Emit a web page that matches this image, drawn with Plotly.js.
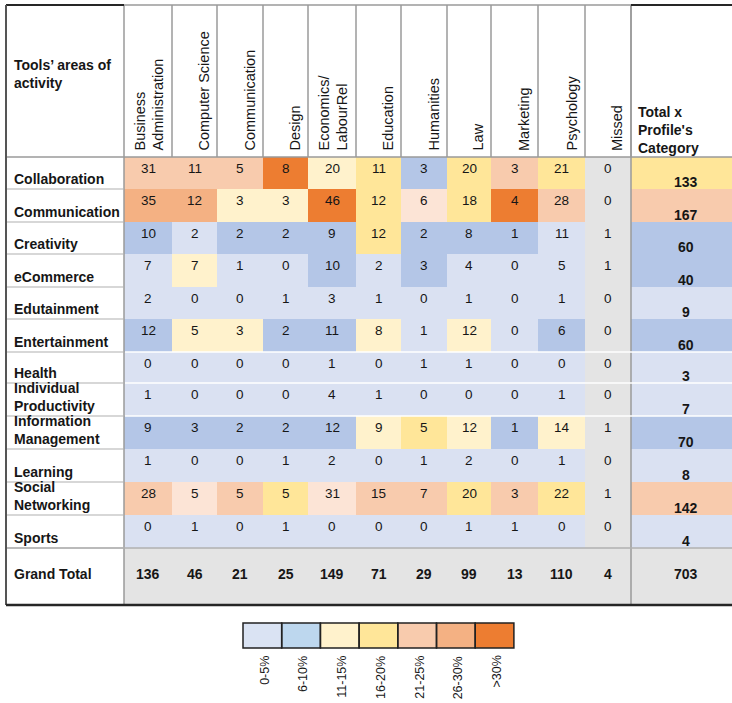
<!DOCTYPE html>
<html>
<head>
<meta charset="utf-8">
<script src="https://cdn.plot.ly/plotly-3.0.1.min.js"></script>
<style>html,body{margin:0;padding:0;background:#fff;}#chart{width:732px;height:703px;}</style>
</head>
<body>
<div id="chart"></div>
<script>
// ---------- DATA ----------
const profiles = ['Business<br>Administration','Computer Science','Communication','Design','Economics/<br>LabourRel','Education','Humanities','Law','Marketing','Psychology','Missed'];
const areas = ['Collaboration','Communication','Creativity','eCommerce','Edutainment','Entertainment','Health','Individual<br>Productivity','Information<br>Management','Learning','Social<br>Networking','Sports'];
const counts = [
  [31,11,5,8,20,11,3,20,3,21,0],
  [35,12,3,3,46,12,6,18,4,28,0],
  [10,2,2,2,9,12,2,8,1,11,1],
  [7,7,1,0,10,2,3,4,0,5,1],
  [2,0,0,1,3,1,0,1,0,1,0],
  [12,5,3,2,11,8,1,12,0,6,0],
  [0,0,0,0,1,0,1,1,0,0,0],
  [1,0,0,0,4,1,0,0,0,1,0],
  [9,3,2,2,12,9,5,12,1,14,1],
  [1,0,0,1,2,0,1,2,0,1,0],
  [28,5,5,5,31,15,7,20,3,22,1],
  [0,1,0,1,0,0,0,1,1,0,0]
];
const rowTotals = [133,167,60,40,9,60,3,7,70,8,142,4];
const colTotals = [136,46,21,25,149,71,29,99,13,110,4];
const grandTotal = 703;
// colour class of each cell (11 profile columns + total column), as shown
// 0:0-5% 1:6-10% 2:11-15% 3:16-20% 4:21-25% 5:26-30% 6:>30% 7:pale pink 8:grey
const shade = [
  [4,4,4,6,2,3,1,3,4,3,8,3],
  [5,5,2,2,6,3,7,3,6,4,8,4],
  [1,0,1,1,1,3,1,1,1,0,8,1],
  [0,2,0,0,1,0,1,0,0,0,8,1],
  [0,0,0,0,0,0,0,0,0,0,8,0],
  [1,2,2,1,1,2,0,2,0,1,8,1],
  [0,0,0,0,0,0,0,0,0,0,8,0],
  [0,0,0,0,0,0,0,0,0,0,8,0],
  [1,1,1,1,1,2,3,2,1,2,8,1],
  [0,0,0,0,0,0,0,0,0,0,8,0],
  [4,7,4,3,7,4,4,3,4,3,8,4],
  [0,0,0,0,0,0,0,0,0,0,8,0]
];
const legendLabels = ['0-5%','6-10%','11-15%','16-20%','21-25%','26-30%','>30%'];

// ---------- STYLE / GEOMETRY ----------
const cellColors = ['#DAE1F2','#B4C6E7','#FFF2CC','#FFE699','#F8CBAD','#F4B183','#ED7D31','#FCE4D6','#E4E4E4'];
const legendColors = ['#DAE3F3','#BDD7EE','#FFF2CC','#FFE699','#F8CBAD','#F4B183','#ED7D31'];
const colEdges = [124,172,217,263,308,356,401,447,491,538,585,631,740];
const rowEdges = [157,189,222,254,287,319,352,383,416,449,482,515,548,605];
const tableLeft = 6, tableTop = 5, tableRight = 732;
const legLeft = 243, legW = 38.7, legTop = 623, legBottom = 648;
const FONT = 'Arial, "Liberation Sans", sans-serif';
const TXT = '#161616';

function stepScale(colors){
  const n = colors.length, cs = [];
  colors.forEach((c,i)=>{ cs.push([i/n,c]); cs.push([(i+1)/n,c]); });
  return cs;
}

// z matrix: data rows + grand total row (grey)
const z = shade.map(r => r.slice());
z.push(new Array(colEdges.length-1).fill(8));

const traces = [{
  type:'heatmap', x: colEdges, y: rowEdges, z: z,
  colorscale: stepScale(cellColors), zmin:-0.5, zmax:cellColors.length-0.5,
  showscale:false, hoverinfo:'skip', xgap:0, ygap:0
},{
  type:'heatmap',
  x: legendColors.map((_,i)=>legLeft+i*legW).concat([legLeft+legendColors.length*legW]),
  y: [legTop, legBottom],
  z: [legendColors.map((_,i)=>i)],
  colorscale: stepScale(legendColors), zmin:-0.5, zmax:legendColors.length-0.5,
  showscale:false, hoverinfo:'skip'
}];

const mid = (a,b)=>(a+b)/2;
const ann = [];
const shapes = [];
const line = (x0,y0,x1,y1,color,width)=>shapes.push({type:'line',xref:'x',yref:'y',x0,y0,x1,y1,line:{color,width}});

// header texts
ann.push({x:tableLeft+6, y:tableTop+50, xanchor:'left', yanchor:'top', align:'left',
  text:"<b>Tools’ areas of<br>activity</b>", showarrow:false, font:{family:FONT,size:14,color:TXT}});
profiles.forEach((p,j)=>{
  ann.push({x:colEdges[j+1]-4, y:153, xanchor:'right', yanchor:'bottom', align:'left', textangle:-90,
    text:p, showarrow:false, font:{family:FONT,size:14.5,color:TXT}});
});
ann.push({x:colEdges[11]+5, y:158, xanchor:'left', yanchor:'bottom', align:'left',
  text:"<b>Total x<br>Profile's<br>Category</b>", showarrow:false, font:{family:FONT,size:14,color:TXT}});

// row labels and values
areas.forEach((a,i)=>{
  ann.push({x:tableLeft+6, y:rowEdges[i+1], xanchor:'left', yanchor:'bottom', align:'left',
    text:'<b>'+a+'</b>', showarrow:false, font:{family:FONT,size:14,color:TXT}});
  counts[i].forEach((v,j)=>{
    ann.push({x:mid(colEdges[j],colEdges[j+1]), y:rowEdges[i]+11, yanchor:'middle',
      text:String(v), showarrow:false, font:{family:FONT,size:13.5,color:TXT}});
  });
  ann.push({x:mid(colEdges[11],colEdges[12]), y:rowEdges[i+1]-7, yanchor:'middle',
    text:'<b>'+rowTotals[i]+'</b>', showarrow:false, font:{family:FONT,size:14,color:TXT}});
});
// grand total row
const gy = rowEdges[rowEdges.length-2]+26;
ann.push({x:tableLeft+6, y:gy, xanchor:'left', yanchor:'middle', text:'<b>Grand Total</b>',
  showarrow:false, font:{family:FONT,size:14,color:TXT}});
colTotals.forEach((v,j)=>{
  ann.push({x:mid(colEdges[j],colEdges[j+1]), y:gy, yanchor:'middle', text:'<b>'+v+'</b>',
    showarrow:false, font:{family:FONT,size:14,color:TXT}});
});
ann.push({x:mid(colEdges[11],colEdges[12]), y:gy, yanchor:'middle', text:'<b>'+grandTotal+'</b>',
  showarrow:false, font:{family:FONT,size:14,color:TXT}});

// legend labels
legendLabels.forEach((l,i)=>{
  ann.push({x:legLeft+(i+0.5)*legW+2, y:legBottom+6, xanchor:'center', yanchor:'top', textangle:-90,
    text:l, showarrow:false, font:{family:FONT,size:12.5,color:TXT}});
  shapes.push({type:'rect',xref:'x',yref:'y',x0:legLeft+i*legW,x1:legLeft+(i+1)*legW,y0:legTop,y1:legBottom,
    line:{color:'#222',width:1.5}});
});

// grid lines
const GREY = '#9a9a9a', DARK = '#262626';
colEdges.slice(1,-1).forEach(x=>line(x,tableTop,x,rowEdges[0],GREY,1.5));
line(colEdges[0],tableTop,colEdges[0],rowEdges[rowEdges.length-1],GREY,1.5);
line(colEdges[11],tableTop,colEdges[11],rowEdges[rowEdges.length-1],GREY,1.5);
line(tableLeft,rowEdges[0],tableRight,rowEdges[0],GREY,1.5);
rowEdges.slice(1,-1).forEach(y=>line(tableLeft,y,colEdges[0],y,'#b0b0b0',1.2));
[6,7,8].forEach(k=>line(colEdges[0]+1,rowEdges[k],tableRight,rowEdges[k],'#ffffff',1.5));
line(tableLeft,rowEdges[rowEdges.length-2],tableRight,rowEdges[rowEdges.length-2],'#b0b0b0',1.5);
// outer border
line(tableLeft,tableTop,colEdges[0],tableTop,DARK,2);
line(colEdges[0],tableTop,colEdges[11],tableTop,GREY,1.5);
line(colEdges[11],tableTop,tableRight,tableTop,DARK,2);
line(tableLeft,tableTop,tableLeft,rowEdges[rowEdges.length-1],'#555',2);
line(tableLeft,rowEdges[rowEdges.length-1],tableRight,rowEdges[rowEdges.length-1],DARK,2.5);

const layout = {
  width:732, height:703, margin:{l:0,r:0,t:0,b:0},
  paper_bgcolor:'#ffffff', plot_bgcolor:'#ffffff',
  xaxis:{range:[0,732], visible:false, fixedrange:true},
  yaxis:{range:[703,0], visible:false, fixedrange:true},
  annotations: ann, shapes: shapes, showlegend:false
};
Plotly.newPlot('chart', traces, layout, {staticPlot:true, displayModeBar:false});
</script>
</body>
</html>
